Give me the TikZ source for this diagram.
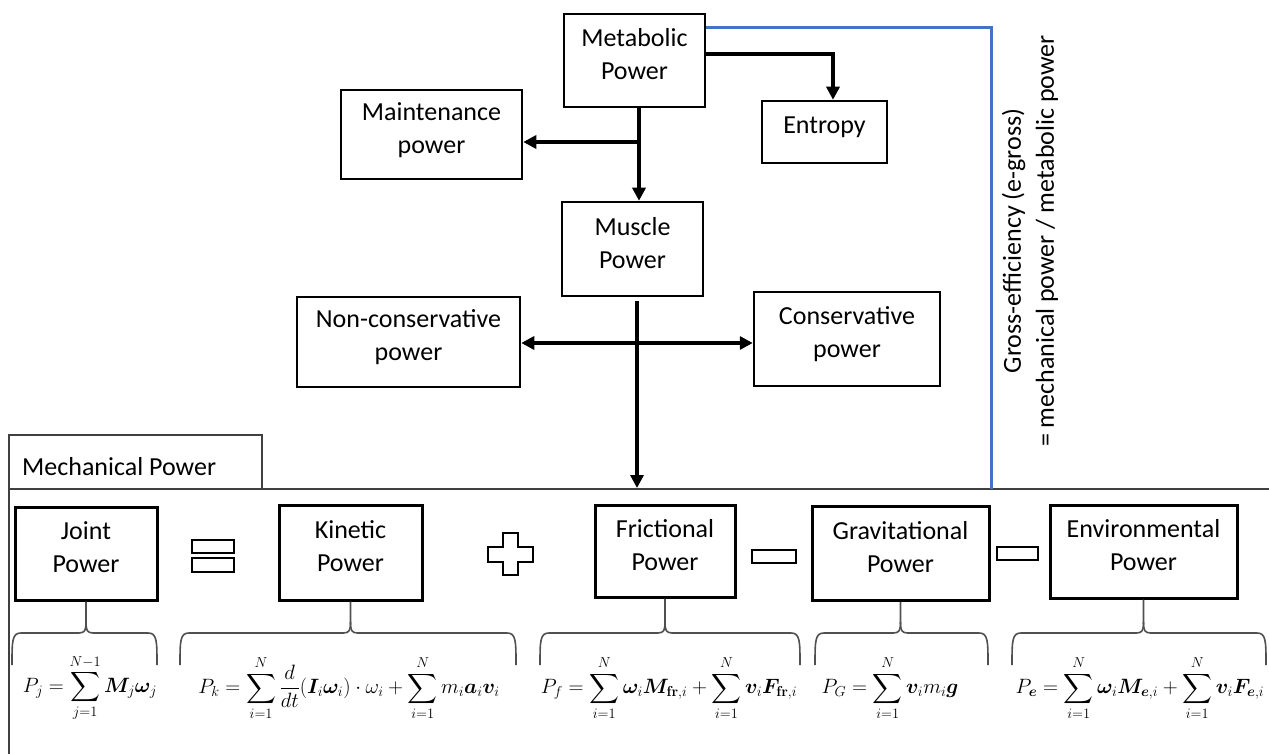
\documentclass[tikz,border=0pt]{standalone}
\usepackage{amsmath,bm}
\usepackage[no-math]{fontspec}
\setmainfont{Carlito}
\usetikzlibrary{arrows.meta,calc}
\definecolor{bluel}{HTML}{4472C4}
\definecolor{framec}{HTML}{404040}
\definecolor{bracec}{HTML}{505050}
\tikzset{
  box/.style={draw, line width=2.5pt, align=center, inner sep=0pt, text depth=13pt,
    font=\fontsize{26}{33}\selectfont},
  bbox/.style={box, line width=3pt},
  arr/.style={line width=3.5pt, -{Triangle[length=13pt,width=13pt]}},
  darr/.style={line width=3.5pt, {Triangle[length=13pt,width=13pt]}-{Triangle[length=13pt,width=13pt]}},
  frameline/.style={draw=framec, line width=1.5pt},
  brc/.style={draw=bracec, line width=1.6pt},
  sym/.style={draw, line width=2.6pt, fill=white, line join=miter},
  fml/.style={inner sep=0pt, font=\fontsize{20}{24}\selectfont},
  lbl/.style={inner sep=0pt, align=center, font=\fontsize{26}{33}\selectfont}
}
\newcommand\mybrc[4]{%
  \draw[brc] (#2,665) .. controls (#2,641) and (#2,633) .. (#2+9,633) -- (#4-7,633)
     .. controls (#4-1,633) and (#4,630) .. (#4,622) -- (#1.south);
  \draw[brc] (#4,622) .. controls (#4,630) and (#4+1,633) .. (#4+7,633) -- (#3-9,633)
     .. controls (#3,633) and (#3,641) .. (#3,665);}
\begin{document}
\begin{tikzpicture}[x=1pt,y=-1pt]
\useasboundingbox (0,0) rectangle (1269,754);
\fill[white] (0,0) rectangle (1269,754);

% top boxes
\node[box, minimum width=141pt, minimum height=93pt] (met) at (634.5,60.5) {Metabolic\\Power};
\node[box, minimum width=125pt, minimum height=62pt] (ent) at (824.5,132) {Entropy};
\node[box, minimum width=181pt, minimum height=89pt] (mai) at (431.5,134.5) {Maintenance\\power};
\node[box, minimum width=141pt, minimum height=94pt] (mus) at (632.5,249) {Muscle\\Power};
\node[box, minimum width=223pt, minimum height=90pt] (non) at (408.5,342) {Non-conservative\\power};
\node[box, minimum width=186pt, minimum height=94pt] (con) at (847,339) {Conservative\\power};

% mechanical power frame
\draw[frameline] (9,754) -- (9,435) -- (262,435) -- (262,489);
\draw[frameline] (9,489) -- (1269,489);
\node[lbl, anchor=west] (mech) at (22,467) {Mechanical Power};

% coordinates
\coordinate (mbr) at (639,142);
\coordinate (h343) at (0,343);
\coordinate (mechtop) at (637,488);
\coordinate (gtop) at (991,489);

% arrows
\draw[arr] ([xshift=4.5pt]met.south) -- ([xshift=4.5pt]met.south |- mus.north);
\draw[arr] (mbr) -- (mbr -| mai.east);
\draw[arr] ([yshift=6.5pt]met.east) -| ([xshift=8.5pt]ent.north);
\draw[arr] ([xshift=4.5pt,yshift=-4pt]mus.south) -- (mechtop);
\draw[darr] (non.east |- h343) -- (con.west |- h343);
\draw[bluel, line width=3pt] ([yshift=32.5pt]met.east) -| (gtop);

% rotated text
\node[lbl, rotate=90] (ge) at (1030,241) {Gross-efficiency (e-gross)\\= mechanical power / metabolic power};

% bottom boxes
\node[bbox, minimum width=142pt, minimum height=93pt] (joint) at (86,553.5) {Joint\\Power};
\node[bbox, minimum width=143pt, minimum height=95pt] (kin) at (350.5,552.5) {Kinetic\\Power};
\node[bbox, minimum width=140pt, minimum height=92pt] (fri) at (665,551) {Frictional\\Power};
\node[bbox, minimum width=177pt, minimum height=94pt] (gra) at (900.5,553.5) {Gravitational\\Power};
\node[bbox, minimum width=187pt, minimum height=93pt] (env) at (1143.5,551.5) {Environmental\\Power};

% operator symbols
\draw[sym] (192,540) rectangle (234,553);
\draw[sym] (192,558) rectangle (234,572);
\draw[sym] (503,533) -- (518,533) -- (518,547) -- (533,547) -- (533,562) -- (518,562)
   -- (518,575) -- (503,575) -- (503,562) -- (488,562) -- (488,547) -- (503,547) -- cycle;
\draw[sym] (752,550) rectangle (796,563);
\draw[sym] (997,547) rectangle (1038,560);

% braces
\mybrc{joint}{12}{157}{86}
\mybrc{kin}{180}{516}{350.5}
\mybrc{fri}{540}{800}{665}
\mybrc{gra}{815}{988}{900.5}
\mybrc{env}{1012}{1266}{1143.5}

% formulas
\node[fml] (fj) at (90,688) {$\displaystyle P_j=\sum_{j=1}^{N-1}\bm{M}_j\bm{\omega}_j$};
\node[fml] (fk) at (349,688) {$\displaystyle P_k=\sum_{i=1}^{N}\frac{d}{dt}(\bm{I}_i\bm{\omega}_i)\cdot\omega_i+\sum_{i=1}^{N}m_i\bm{a}_i\bm{v}_i$};
\node[fml] (ff) at (669,688) {$\displaystyle P_f=\sum_{i=1}^{N}\bm{\omega}_i\bm{M}_{\mathbf{fr},i}+\sum_{i=1}^{N}\bm{v}_i\bm{F}_{\mathbf{fr},i}$};
\node[fml] (fg) at (890,688) {$\displaystyle P_G=\sum_{i=1}^{N}\bm{v}_i m_i\bm{g}$};
\node[fml] (fe) at (1140,688) {$\displaystyle P_{\bm{e}}=\sum_{i=1}^{N}\bm{\omega}_i\bm{M}_{\bm{e},i}+\sum_{i=1}^{N}\bm{v}_i\bm{F}_{\bm{e},i}$};
\end{tikzpicture}
\end{document}
